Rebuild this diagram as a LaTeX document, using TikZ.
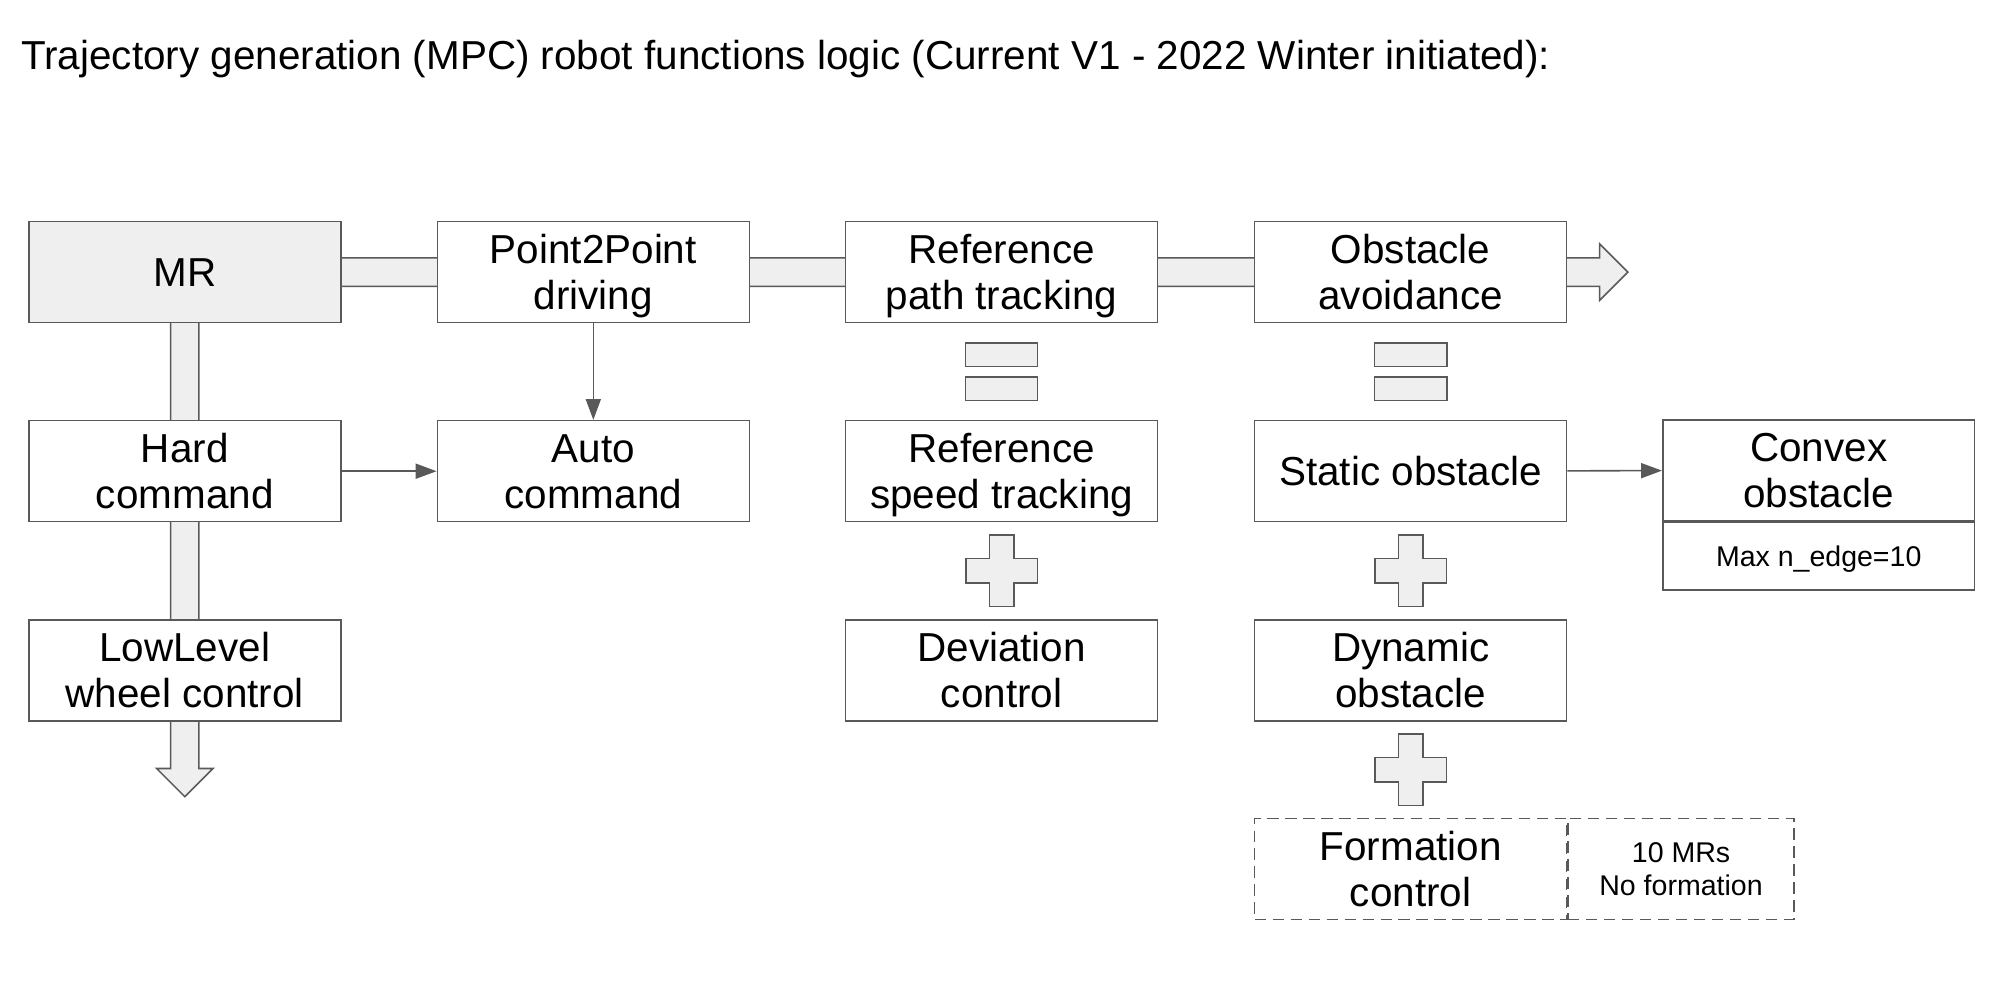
\documentclass[tikz,border=0pt]{standalone}
\usepackage{fontspec}
\setmainfont{Liberation Sans}
\usepackage{tikz}
\usetikzlibrary{arrows.meta,calc,backgrounds}
\definecolor{edgegray}{HTML}{595959}
\definecolor{fillgray}{HTML}{EFEFEF}
\tikzset{
  box/.style={draw=edgegray,line width=0.7pt,fill=white,minimum width=4.88cm,
    minimum height=1.58cm,inner sep=0pt,align=center,text depth=0pt,
    font=\fontsize{18}{20.5}\selectfont},
  notebox/.style={box,font=\fontsize{12.7}{14.6}\selectfont},
  dashbox/.style={dash pattern=on 5pt off 3pt},
  thinarrow/.style={draw=edgegray,line width=0.7pt,-{Triangle[length=9.3pt,width=6.7pt]}},
  blockarrow/.style={draw=edgegray,fill=fillgray,line width=0.7pt,line join=miter},
  signshape/.style={draw=edgegray,fill=fillgray,line width=0.7pt},
  equalsign/.pic={
    \draw[signshape] (-28.2,-22.4) rectangle (28.2,-4.1);
    \draw[signshape] (-28.2,4.1) rectangle (28.2,22.4);
  },
  plussign/.pic={
    \draw[signshape] (-9.5,-28) -- (9.5,-28) -- (9.5,-9.5) -- (28,-9.5) -- (28,9.5)
      -- (9.5,9.5) -- (9.5,28) -- (-9.5,28) -- (-9.5,9.5) -- (-28,9.5)
      -- (-28,-9.5) -- (-9.5,-9.5) -- cycle;
  }
}

\begin{document}
\begin{tikzpicture}[x=0.02cm,y=-0.02cm]
\useasboundingbox (0,0) rectangle (1568,772.66);

% Title
\node[anchor=base west,inner sep=0pt,font=\fontsize{18}{20.5}\selectfont] (title) at (16.2,54.7)
  {Trajectory generation (MPC) robot functions logic (Current V1 - 2022 Winter initiated):};

% Top row
\node[box,fill=fillgray] (mr) at (144.5,212.8) {MR};
\node[box] (p2p) at (464,212.8) {Point2Point\\driving};
\node[box] (refpath) at (783.3,212.8) {Reference\\path tracking};
\node[box] (obstacle) at (1103.2,212.8) {Obstacle\\avoidance};

% Second row
\node[box] (hard) at (144.5,368.5) {Hard\\command};
\node[box] (auto) at (464,368.5) {Auto\\command};
\node[box] (refspeed) at (783.3,368.5) {Reference\\speed tracking};
\node[box] (static) at (1103.2,368.5) {Static obstacle};
\node[box,minimum height=1.57cm] (convex) at (1422.3,367.75) {Convex\\obstacle};
\node[notebox,minimum height=1.068cm,anchor=north] (convexnote) at (convex.south) {Max n\_edge=10};

% Third row
\node[box] (lowlevel) at (144.5,524.2) {LowLevel\\wheel control};
\node[box] (deviation) at (783.3,524.2) {Deviation\\control};
\node[box] (dynamic) at (1103.2,524.2) {Dynamic\\obstacle};

% Formation (not done yet)
\node[box,dashbox] (formation) at (1103.2,679.6) {Formation\\control};
\node[notebox,dashbox,minimum width=3.53cm,anchor=west] (tenmr) at (formation.east) {10 MRs\\No formation};

% Free ends of the big arrows
\coordinate (hend) at (1273,212.8);
\coordinate (vend) at (144.5,623);

% Big arrows behind the boxes
\begin{scope}[on background layer]
\draw[blockarrow] ($(mr.center)+(0,-11.1)$) -- ($(hend)+(-22,-11.1)$) -- ++(0,-11) -- (hend)
  -- ($(hend)+(-22,22.1)$) -- ++(0,-11) -- ($(mr.center)+(0,11.1)$) -- cycle;
\draw[blockarrow] ($(mr.center)+(-11,0)$) -- ($(vend)+(-11,-22)$) -- ++(-11,0) -- (vend)
  -- ($(vend)+(22,-22)$) -- ++(-11,0) -- ($(mr.center)+(11,0)$) -- cycle;
\end{scope}

% Thin arrows
\draw[thinarrow] (p2p) -- (auto);
\draw[thinarrow] (hard) -- (auto);
\draw[thinarrow] (static) -- (convex);

% Equal and plus signs
\pic at ($(refpath.south)!0.5!(refspeed.north)$) {equalsign};
\pic at ($(obstacle.south)!0.5!(static.north)$) {equalsign};
\pic at ($(refspeed.south)!0.5!(deviation.north)$) {plussign};
\pic at ($(static.south)!0.5!(dynamic.north)$) {plussign};
\pic at ($(dynamic.south)!0.5!(formation.north)$) {plussign};
\end{tikzpicture}
\end{document}
